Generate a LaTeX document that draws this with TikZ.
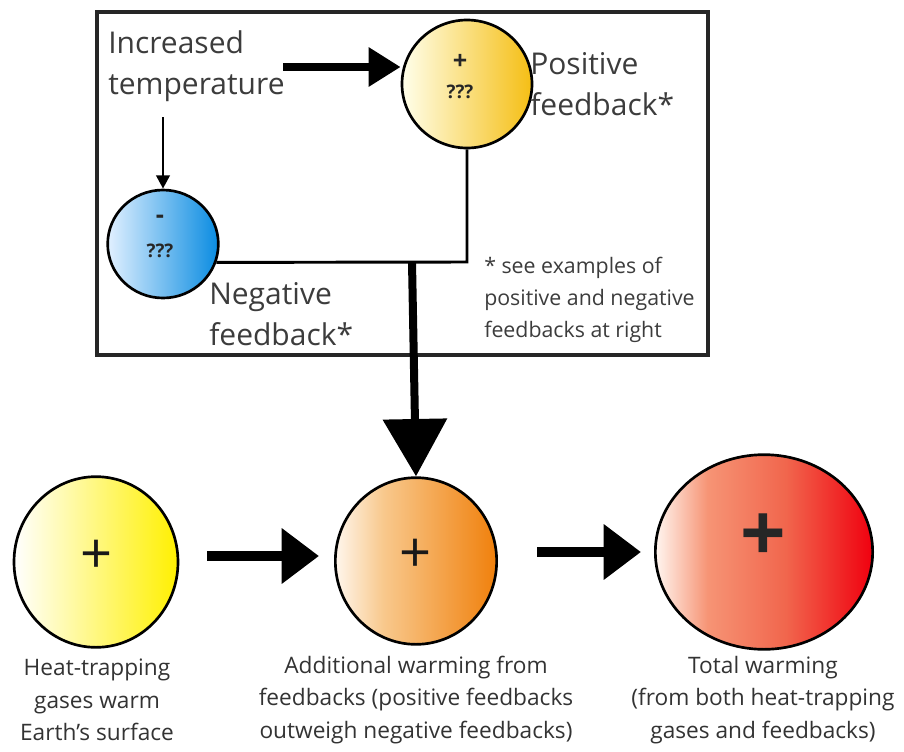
\documentclass[tikz,border=0pt]{standalone}
\usepackage{fontspec}
\setmainfont{Open Sans}
\usetikzlibrary{arrows.meta,shapes.geometric}
\definecolor{txt}{HTML}{3C3C3C}
\definecolor{capt}{HTML}{333333}
\definecolor{rbA}{RGB}{255,246,240}
\definecolor{rbB}{RGB}{246,148,117}
\definecolor{rbC}{RGB}{241,102,77}
\definecolor{rbD}{RGB}{240,0,15}
\definecolor{obA}{RGB}{255,246,236}
\definecolor{obB}{RGB}{248,200,140}
\definecolor{obC}{RGB}{240,128,12}
\pgfdeclarehorizontalshading{redball}{100bp}{color(0bp)=(rbA); color(25bp)=(rbA); color(37bp)=(rbB); color(55bp)=(rbC); color(75bp)=(rbD); color(100bp)=(rbD)}
\pgfdeclarehorizontalshading{oraball}{100bp}{color(0bp)=(obA); color(25bp)=(obA); color(40bp)=(obB); color(75bp)=(obC); color(100bp)=(obC)}
\begin{document}
\begin{tikzpicture}[x=0.75pt,y=-0.75pt,
  ball/.style={ellipse,draw=black,line width=2pt,inner sep=0pt},
  bigtxt/.style={font=\fontsize{22.5pt}{31pt}\selectfont,text=txt,align=left,inner sep=0pt},
  smalltxt/.style={font=\fontsize{16pt}{24pt}\selectfont,text=txt,align=left,inner sep=0pt},
  captxt/.style={font=\fontsize{17pt}{24.5pt}\selectfont,text=capt,align=center,inner sep=0pt},
  qtxt/.style={font=\bfseries\fontsize{14pt}{14pt}\selectfont,text=black!85,inner sep=0pt},
  plus/.style={font=\fontsize{#1}{#1}\selectfont,text=black!90,inner sep=0pt},
  bplus/.style={font=\bfseries\fontsize{#1}{#1}\selectfont,text=black!85,inner sep=0pt},
  thinarrow/.style={line width=2.2pt,-{Triangle[length=10pt,width=10pt]}},
  midarrow/.style={line width=6pt,-{Triangle[length=24pt,width=28pt]}},
  fatarrow/.style={line width=7pt,-{Triangle[length=28pt,width=40pt]}},
  bigdown/.style={line width=6pt,-{Triangle[length=43pt,width=47pt]}},
  link/.style={line width=2.2pt}]
\useasboundingbox (0,0) rectangle (904,751);
% frame
\node[draw=black!85,line width=2.4pt,minimum width=458.25pt,minimum height=257.25pt,inner sep=0pt] (frame) at (402.5,183.5) {};
% top nodes
\node[bigtxt,anchor=west] (inc) at (108,66) {Increased\\temperature};
\node[ball,minimum width=97.5pt,minimum height=96pt,left color=yellow!8!white,right color={rgb,255:red,245;green,190;blue,20}] (pos) at (467,84) {};
\node[bplus=19pt] (possign) at (460,62) {+};
\node[qtxt] (posq) at (460,92) {???};
\node[bigtxt,anchor=west] (poslab) at (530,84) {Positive\\feedback*};
\node[ball,minimum width=83pt,minimum height=81pt,left color={rgb,255:red,225;green,240;blue,255},right color={rgb,255:red,10;green,140;blue,225}] (neg) at (163,244) {};
\node[bplus=19pt] (negsign) at (160,219) {-};
\node[qtxt] (negq) at (160,251) {???};
\node[bigtxt,anchor=west] (neglab) at (209,314) {Negative\\feedback*};
\node[smalltxt,anchor=west] (note) at (484,300) {* see examples of\\positive and negative\\feedbacks at right};
% top connectors
\coordinate (a0s) at (283,67);
\draw[midarrow] (a0s) -- (pos.west |- a0s);
\coordinate (d0s) at (163,117);
\draw[thinarrow] (d0s) -- (neg.north);
\coordinate (corner) at (467,262);
\coordinate (junc) at (412,262);
\draw[link] (pos.south) -- (corner) -- (neg.-19);
% bottom nodes
\node[ball,minimum width=123pt,minimum height=128pt,left color=white,right color={rgb,255:red,255;green,240;blue,0}] (yel) at (96,562) {};
\node[plus=42pt] (yelsign) at (97,557) {+};
\node[ball,minimum width=121pt,minimum height=125pt,shading=oraball] (ora) at (416,561) {};
\node[plus=42pt] (orasign) at (416,556) {+};
\node[ball,minimum width=163pt,minimum height=146pt,shading=redball] (red) at (764,552) {};
\node[bplus=60pt] (redsign) at (763,538) {+};
% captions
\node[captxt] (cap1) at (97,700) {Heat-trapping\\gases warm\\Earth’s surface};
\node[captxt] (cap2) at (416,700) {Additional warming from\\feedbacks (positive feedbacks\\outweigh negative feedbacks)};
\node[captxt] (cap3) at (763,700) {Total warming\\(from both heat-trapping\\gases and feedbacks)};
% bottom connectors
\draw[bigdown] (junc) -- (ora.north);
\coordinate (a1s) at (207,556);
\coordinate (a1e) at (319,556);
\draw[fatarrow] (a1s) -- (a1e);
\coordinate (a2s) at (537,552);
\coordinate (a2e) at (641,552);
\draw[fatarrow] (a2s) -- (a2e);
\end{tikzpicture}
\end{document}
